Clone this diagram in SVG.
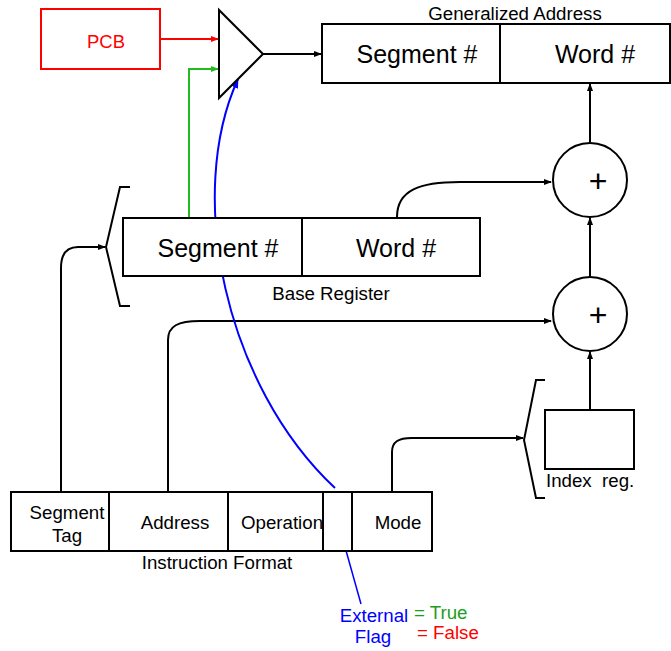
<svg xmlns="http://www.w3.org/2000/svg" width="671" height="651" viewBox="0 0 671 651">
<style>
text{font-family:"Liberation Sans",Arial,sans-serif;fill:#000}
.box{fill:#fff;stroke:#000;stroke-width:2}
.ln{fill:none;stroke:#000;stroke-width:2}
.big{font-size:25px;text-anchor:middle}
.md{font-size:18.7px;text-anchor:middle}
.plus{font-size:32px;text-anchor:middle}
</style>
<defs>
<marker id="ak" markerWidth="8" markerHeight="8" refX="7" refY="4" orient="auto" markerUnits="userSpaceOnUse"><path d="M0,1 L8,4 L0,7 Z" fill="#000"/></marker>
<marker id="ar" markerWidth="8" markerHeight="8" refX="7" refY="4" orient="auto" markerUnits="userSpaceOnUse"><path d="M0,1 L8,4 L0,7 Z" fill="#f00"/></marker>
<marker id="ag" markerWidth="8" markerHeight="8" refX="7" refY="4" orient="auto" markerUnits="userSpaceOnUse"><path d="M0,1 L8,4 L0,7 Z" fill="#22bb22"/></marker>
<marker id="ab" markerWidth="10" markerHeight="10" refX="9" refY="5" orient="auto" markerUnits="userSpaceOnUse"><path d="M0,1 L10,5 L0,9 Z" fill="#00f"/></marker>
</defs>

<g id="connectors">
<line x1="160" y1="39" x2="218" y2="39" stroke="#f00" stroke-width="2" marker-end="url(#ar)"/>
<polyline points="189,217 189,69 218,69" fill="none" stroke="#22bb22" stroke-width="2" marker-end="url(#ag)"/>
<line x1="263" y1="54" x2="321" y2="54" class="ln" marker-end="url(#ak)"/>
<line x1="590" y1="143" x2="590" y2="84" class="ln" marker-end="url(#ak)"/>
<path d="M397,217 C397,190 420,182 460,182 L551,182" class="ln" marker-end="url(#ak)"/>
<line x1="590" y1="277" x2="590" y2="218" class="ln" marker-end="url(#ak)"/>
<line x1="590" y1="410" x2="590" y2="352" class="ln" marker-end="url(#ak)"/>
<path d="M61,492 L61,268 C61,255 66,247 78,247 L105,247" class="ln" marker-end="url(#ak)"/>
<path d="M168,492 L168,340 C168,326 178,321 200,321 L551,321" class="ln" marker-end="url(#ak)"/>
<path d="M392,492 L392,452 C392,442 398,438 412,438 L523,438" class="ln" marker-end="url(#ak)"/>
<path d="M335,488 C225,385 185,195 238,79" fill="none" stroke="#00f" stroke-width="2" marker-end="url(#ab)"/>
<line x1="338" y1="522" x2="361" y2="604" stroke="#00f" stroke-width="1.5"/>
</g>

<g id="pcb">
<rect x="41" y="9" width="119" height="60" fill="#fff" stroke="#f00" stroke-width="2"/>
<text x="106" y="48" style="fill:#f00;font-size:18.5px;text-anchor:middle">PCB</text>
</g>

<g id="mux">
<polygon points="219,10 219,98 263,54" fill="#fff" stroke="#000" stroke-width="2"/>
</g>

<g id="generalized-address">
<rect x="322" y="24" width="348" height="59" class="box"/>
<line x1="500" y1="24" x2="500" y2="83" class="ln"/>
<text x="417" y="63" class="big">Segment #</text>
<text x="595" y="63" class="big">Word #</text>
<text x="515" y="20" class="md">Generalized Address</text>
</g>

<g id="adder1">
<circle cx="590" cy="180" r="37" class="box"/>
<text x="598" y="192" class="plus">+</text>
</g>
<g id="adder2">
<circle cx="590" cy="314" r="37" class="box"/>
<text x="598" y="326" class="plus">+</text>
</g>

<g id="base-register">
<rect x="123" y="218" width="357" height="58" class="box"/>
<line x1="302" y1="218" x2="302" y2="276" class="ln"/>
<text x="218" y="257" class="big">Segment #</text>
<text x="396" y="257" class="big">Word #</text>
<text x="331" y="300" class="md">Base Register</text>
<polyline points="130,187 120,187 106,247 120,306 130,306" class="ln"/>
</g>

<g id="index-reg">
<rect x="545" y="410" width="89" height="59" class="box"/>
<text x="546" y="487" style="font-size:18.7px;white-space:pre">Index  reg.</text>
<polyline points="545,380 536,380 524,440 536,498 545,498" class="ln"/>
</g>

<g id="instruction-format">
<rect x="11" y="492" width="421" height="59" class="box"/>
<line x1="109" y1="492" x2="109" y2="551" class="ln"/>
<line x1="228" y1="492" x2="228" y2="551" class="ln"/>
<line x1="323" y1="492" x2="323" y2="551" class="ln"/>
<line x1="352" y1="492" x2="352" y2="551" class="ln"/>
<text x="67" y="519" class="md">Segment</text>
<text x="67" y="542" class="md">Tag</text>
<text x="175" y="529" class="md">Address</text>
<text x="282" y="529" class="md">Operation</text>
<text x="398" y="529" class="md">Mode</text>
<text x="217" y="569" class="md">Instruction Format</text>
</g>

<g id="legend">
<text x="374" y="622" style="fill:#00f;font-size:18.7px;text-anchor:middle">External</text>
<text x="373" y="643" style="fill:#00f;font-size:18.7px;text-anchor:middle">Flag</text>
<text x="414" y="619" style="fill:#1aa01a;font-size:18.7px">= True</text>
<text x="417" y="639" style="fill:#f00;font-size:18.7px">= False</text>
</g>
</svg>
